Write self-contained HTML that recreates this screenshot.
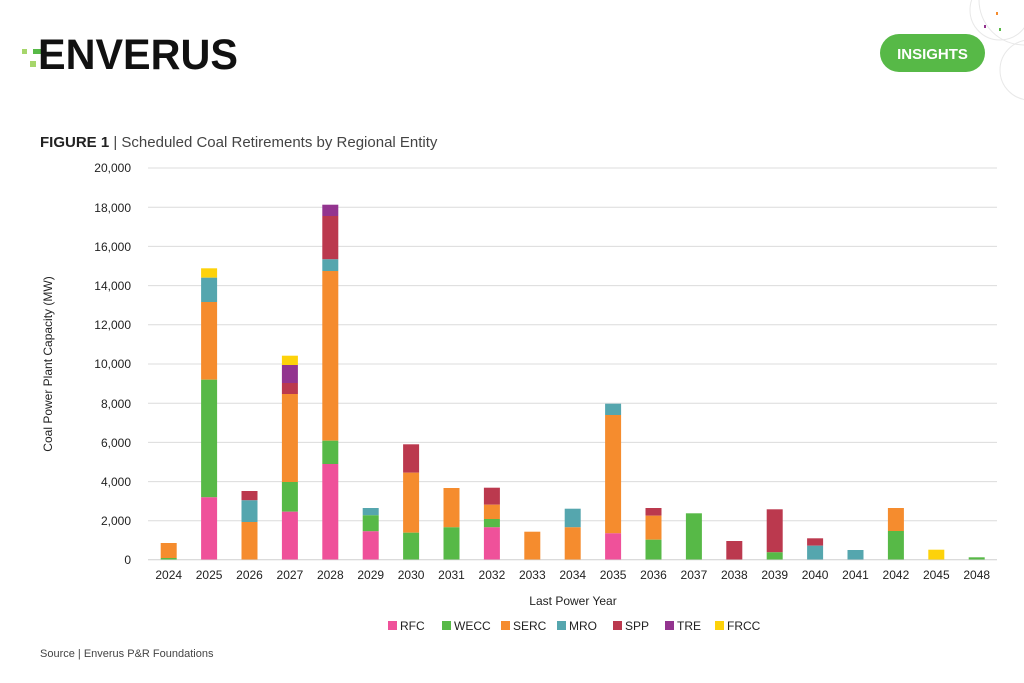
<!DOCTYPE html>
<html><head><meta charset="utf-8"><style>
html,body{margin:0;padding:0;background:#fff;}
svg{display:block;font-family:"Liberation Sans",sans-serif;}
</style></head><body>
<svg width="1024" height="683" viewBox="0 0 1024 683" xmlns="http://www.w3.org/2000/svg">
<!-- decorative circles -->
<g fill="none" stroke="#e8e8e8" stroke-width="1">
<circle cx="1000" cy="10" r="30"/><circle cx="1024" cy="0" r="45"/><circle cx="1030" cy="70" r="30"/>
</g>
<rect x="996" y="12" width="2" height="3" fill="#f58c2e"/><rect x="984" y="25" width="2" height="3" fill="#93348f"/><rect x="999" y="28" width="2" height="3" fill="#57b947"/>
<!-- logo -->
<rect x="22" y="49" width="5" height="5" fill="#a6d66b"/>
<rect x="33" y="49" width="12" height="5" fill="#57b947"/>
<rect x="30" y="61" width="6" height="6" fill="#a6d66b"/>
<text x="38" y="69" font-size="43" font-weight="bold" fill="#111" textLength="200" lengthAdjust="spacingAndGlyphs">ENVERUS</text>
<rect x="880" y="34" width="105" height="38" rx="19" fill="#57b947"/>
<text x="932.5" y="59" font-size="15" font-weight="bold" fill="#fff" text-anchor="middle">INSIGHTS</text>
<!-- title -->
<text x="40" y="147" font-size="15" fill="#222"><tspan font-weight="bold">FIGURE 1</tspan><tspan fill="#444"> | Scheduled Coal Retirements by Regional Entity</tspan></text>
<!-- grid -->
<g stroke="#dcdcdc" stroke-width="1">
<line x1="148" x2="997" y1="520.8" y2="520.8"/><line x1="148" x2="997" y1="481.6" y2="481.6"/>
<line x1="148" x2="997" y1="442.4" y2="442.4"/><line x1="148" x2="997" y1="403.2" y2="403.2"/>
<line x1="148" x2="997" y1="364" y2="364"/><line x1="148" x2="997" y1="324.8" y2="324.8"/>
<line x1="148" x2="997" y1="285.6" y2="285.6"/><line x1="148" x2="997" y1="246.4" y2="246.4"/>
<line x1="148" x2="997" y1="207.2" y2="207.2"/><line x1="148" x2="997" y1="168" y2="168"/>
<line x1="148" x2="997" y1="559.8" y2="559.8" stroke="#cfcfcf"/>
</g>
<g font-size="12" fill="#222" text-anchor="end">
<text x="131" y="564">0</text><text x="131" y="525">2,000</text><text x="131" y="486">4,000</text>
<text x="131" y="447">6,000</text><text x="131" y="408">8,000</text><text x="131" y="368">10,000</text>
<text x="131" y="329">12,000</text><text x="131" y="290">14,000</text><text x="131" y="251">16,000</text>
<text x="131" y="212">18,000</text><text x="131" y="172">20,000</text>
</g>
<text transform="translate(52,364) rotate(-90)" font-size="12" fill="#222" text-anchor="middle">Coal Power Plant Capacity (MW)</text>
<!-- bars -->
<g>
<!-- 2024 -->
<rect x="160.7" y="543" width="16" height="15" fill="#f58c2e"/><rect x="160.7" y="558" width="16" height="1.5" fill="#57b947"/>
<!-- 2025 -->
<rect x="201.1" y="268.3" width="16" height="9.4" fill="#fdd20a"/><rect x="201.1" y="277.7" width="16" height="24.3" fill="#55a6ae"/>
<rect x="201.1" y="302" width="16" height="77.7" fill="#f58c2e"/><rect x="201.1" y="379.7" width="16" height="117.6" fill="#57b947"/>
<rect x="201.1" y="497.3" width="16" height="62.2" fill="#ef519a"/>
<!-- 2026 -->
<rect x="241.5" y="491" width="16" height="9.3" fill="#bb394e"/><rect x="241.5" y="500.3" width="16" height="21.7" fill="#55a6ae"/>
<rect x="241.5" y="522" width="16" height="37.5" fill="#f58c2e"/>
<!-- 2027 -->
<rect x="281.9" y="355.7" width="16" height="9.3" fill="#fdd20a"/><rect x="281.9" y="365" width="16" height="18" fill="#93348f"/>
<rect x="281.9" y="383" width="16" height="11" fill="#bb394e"/><rect x="281.9" y="394" width="16" height="88" fill="#f58c2e"/>
<rect x="281.9" y="482" width="16" height="29.7" fill="#57b947"/><rect x="281.9" y="511.7" width="16" height="47.8" fill="#ef519a"/>
<!-- 2028 -->
<rect x="322.3" y="204.7" width="16" height="11.3" fill="#93348f"/><rect x="322.3" y="216" width="16" height="43.3" fill="#bb394e"/>
<rect x="322.3" y="259.3" width="16" height="11.7" fill="#55a6ae"/><rect x="322.3" y="271" width="16" height="169.7" fill="#f58c2e"/>
<rect x="322.3" y="440.7" width="16" height="23.3" fill="#57b947"/><rect x="322.3" y="464" width="16" height="95.5" fill="#ef519a"/>
<!-- 2029 -->
<rect x="362.7" y="508" width="16" height="7.3" fill="#55a6ae"/><rect x="362.7" y="515.3" width="16" height="16" fill="#57b947"/>
<rect x="362.7" y="531.3" width="16" height="28.2" fill="#ef519a"/>
<!-- 2030 -->
<rect x="403.1" y="444.3" width="16" height="28.4" fill="#bb394e"/><rect x="403.1" y="472.7" width="16" height="60" fill="#f58c2e"/>
<rect x="403.1" y="532.7" width="16" height="26.8" fill="#57b947"/>
<!-- 2031 -->
<rect x="443.5" y="488" width="16" height="39.3" fill="#f58c2e"/><rect x="443.5" y="527.3" width="16" height="32.2" fill="#57b947"/>
<!-- 2032 -->
<rect x="483.9" y="487.7" width="16" height="17" fill="#bb394e"/><rect x="483.9" y="504.7" width="16" height="14.3" fill="#f58c2e"/>
<rect x="483.9" y="519" width="16" height="8.3" fill="#57b947"/><rect x="483.9" y="527.3" width="16" height="32.2" fill="#ef519a"/>
<!-- 2033 -->
<rect x="524.3" y="531.7" width="16" height="27.8" fill="#f58c2e"/>
<!-- 2034 -->
<rect x="564.7" y="508.7" width="16" height="18.6" fill="#55a6ae"/><rect x="564.7" y="527.3" width="16" height="32.2" fill="#f58c2e"/>
<!-- 2035 -->
<rect x="605.1" y="403.7" width="16" height="11.3" fill="#55a6ae"/><rect x="605.1" y="415" width="16" height="118.3" fill="#f58c2e"/>
<rect x="605.1" y="533.3" width="16" height="26.2" fill="#ef519a"/>
<!-- 2036 -->
<rect x="645.5" y="508" width="16" height="7.7" fill="#bb394e"/><rect x="645.5" y="515.7" width="16" height="24" fill="#f58c2e"/>
<rect x="645.5" y="539.7" width="16" height="19.8" fill="#57b947"/>
<!-- 2037 -->
<rect x="685.9" y="513.3" width="16" height="46.2" fill="#57b947"/>
<!-- 2038 -->
<rect x="726.3" y="541" width="16" height="18.5" fill="#bb394e"/>
<!-- 2039 -->
<rect x="766.7" y="509.3" width="16" height="43" fill="#bb394e"/><rect x="766.7" y="552.3" width="16" height="7.2" fill="#57b947"/>
<!-- 2040 -->
<rect x="807.1" y="538.3" width="16" height="7.4" fill="#bb394e"/><rect x="807.1" y="545.7" width="16" height="13.8" fill="#55a6ae"/>
<!-- 2041 -->
<rect x="847.5" y="550" width="16" height="9.5" fill="#55a6ae"/>
<!-- 2042 -->
<rect x="887.9" y="508" width="16" height="23" fill="#f58c2e"/><rect x="887.9" y="531" width="16" height="28.5" fill="#57b947"/>
<!-- 2045 -->
<rect x="928.3" y="549.7" width="16" height="9.8" fill="#fdd20a"/>
<!-- 2048 -->
<rect x="968.7" y="557.3" width="16" height="2.2" fill="#57b947"/>
</g>
<!-- x labels -->
<g font-size="12" fill="#222" text-anchor="middle">
<text x="168.7" y="579">2024</text><text x="209.1" y="579">2025</text><text x="249.5" y="579">2026</text>
<text x="289.9" y="579">2027</text><text x="330.3" y="579">2028</text><text x="370.7" y="579">2029</text>
<text x="411.1" y="579">2030</text><text x="451.5" y="579">2031</text><text x="491.9" y="579">2032</text>
<text x="532.3" y="579">2033</text><text x="572.7" y="579">2034</text><text x="613.1" y="579">2035</text>
<text x="653.5" y="579">2036</text><text x="693.9" y="579">2037</text><text x="734.3" y="579">2038</text>
<text x="774.7" y="579">2039</text><text x="815.1" y="579">2040</text><text x="855.5" y="579">2041</text>
<text x="895.9" y="579">2042</text><text x="936.3" y="579">2045</text><text x="976.7" y="579">2048</text>
<text x="573" y="605">Last Power Year</text>
</g>
<!-- legend -->
<g font-size="12" fill="#222">
<rect x="388" y="621" width="9" height="9" fill="#ef519a"/><text x="400" y="630">RFC</text>
<rect x="442" y="621" width="9" height="9" fill="#57b947"/><text x="454" y="630">WECC</text>
<rect x="501" y="621" width="9" height="9" fill="#f58c2e"/><text x="513" y="630">SERC</text>
<rect x="557" y="621" width="9" height="9" fill="#55a6ae"/><text x="569" y="630">MRO</text>
<rect x="613" y="621" width="9" height="9" fill="#bb394e"/><text x="625" y="630">SPP</text>
<rect x="665" y="621" width="9" height="9" fill="#93348f"/><text x="677" y="630">TRE</text>
<rect x="715" y="621" width="9" height="9" fill="#fdd20a"/><text x="727" y="630">FRCC</text>
</g>
<text x="40" y="657" font-size="11" fill="#444">Source | Enverus P&amp;R Foundations</text>
</svg>
</body></html>
